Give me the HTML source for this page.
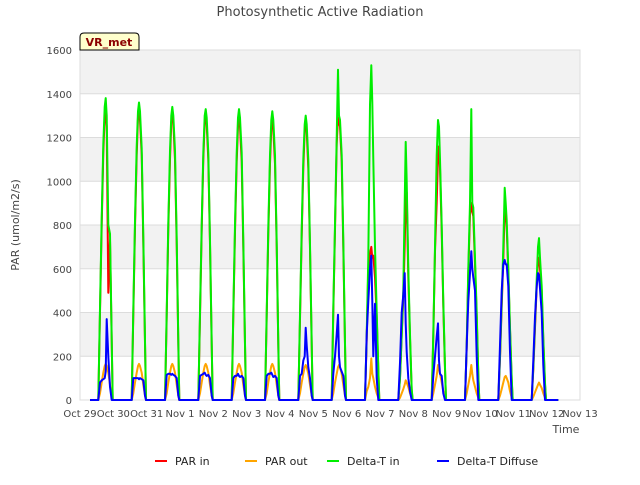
<!DOCTYPE html>
<html><head><meta charset="utf-8"><style>
body{margin:0;background:#fff;font-family:"Liberation Sans","DejaVu Sans",sans-serif;}
svg text{font-family:"DejaVu Sans","Liberation Sans",sans-serif;}
</style></head><body>
<svg id="chart" width="640" height="480">
<rect width="640" height="480" fill="#fff"/>
<text x="320" y="16" text-anchor="middle" font-size="13" fill="#444">Photosynthetic Active Radiation</text>
<g id="grid"></g>
<g id="series"></g>
<g id="axes"></g>
<text x="19" y="225" transform="rotate(-90 19 225)" text-anchor="middle" font-size="11" fill="#444">PAR (umol/m2/s)</text>
<text x="566" y="433" text-anchor="middle" font-size="11" fill="#444">Time</text>
<g>
<path d="M80,50 L80,37 Q80,33 84,33 L135,33 Q139,33 139,37 L139,50 Z" fill="#ffffcc" stroke="#000"/>
<text x="109" y="46" text-anchor="middle" font-size="11" font-weight="bold" fill="#8b0000">VR_met</text>
</g>
<g id="legend"></g>
</svg>
<script>
const xTickLabels=["Oct 29","Oct 30","Oct 31","Nov 1","Nov 2","Nov 3","Nov 4","Nov 5","Nov 6","Nov 7","Nov 8","Nov 9","Nov 10","Nov 11","Nov 12","Nov 13"];
const yTicks=[0,200,400,600,800,1000,1200,1400,1600];
const offsets=[0.55,0.6,0.65,0.7,0.74,0.77,0.8,0.85,0.9,0.95,0.98];
const deltaTIn=[
[0,420,830,1170,1340,1380,1300,800,760,280,0],
[0,410,820,1160,1320,1360,1320,1150,750,270,0],
[0,400,810,1140,1300,1340,1300,1140,740,270,0],
[0,400,800,1130,1300,1330,1290,1130,730,260,0],
[0,400,800,1130,1290,1330,1290,1130,730,260,0],
[0,400,790,1120,1280,1320,1280,1120,720,260,0],
[0,390,780,1100,1260,1300,1260,1100,710,260,0],
[0,420,800,1200,1510,1300,1280,1120,730,260,0],
[0,300,650,1350,1530,1360,1100,700,400,150,0],
[0,100,300,500,900,1180,1000,600,300,50,0],
[0,300,700,1120,1280,1250,1100,800,450,150,0],
[0,250,600,900,1330,900,880,650,400,120,0],
[0,200,450,700,970,900,820,600,330,100,0],
[0,150,350,550,700,740,650,520,280,80,0]];
const parIn=[
[0,400,800,1130,1300,1320,1250,490,730,270,0],
[0,390,790,1120,1290,1320,1280,1120,720,260,0],
[0,380,780,1100,1270,1310,1270,1100,710,260,0],
[0,380,780,1100,1270,1300,1260,1100,710,250,0],
[0,380,770,1090,1250,1290,1250,1090,700,250,0],
[0,380,760,1080,1240,1280,1240,1080,700,250,0],
[0,370,750,1060,1230,1270,1230,1060,690,250,0],
[0,400,780,1170,1290,1270,1250,1090,700,250,0],
[0,280,600,670,700,650,660,560,380,140,0],
[0,100,300,470,710,900,950,560,280,40,0],
[0,290,680,900,1120,1160,1060,770,430,140,0],
[0,240,580,850,900,860,840,620,380,110,0],
[0,190,430,640,880,860,790,580,320,90,0],
[0,140,330,520,640,650,600,500,270,70,0]];
const parOut=[
[0,30,80,125,155,165,155,125,70,20,0],
[0,30,80,125,155,165,155,125,70,20,0],
[0,30,80,125,155,165,155,125,70,20,0],
[0,30,80,125,155,165,155,125,70,20,0],
[0,30,80,125,155,165,155,125,70,20,0],
[0,30,80,125,155,165,155,125,70,20,0],
[0,30,80,120,150,160,150,120,70,20,0],
[0,30,80,120,150,160,150,120,70,20,0],
[0,40,60,100,190,120,100,60,30,10,0],
[0,10,30,50,70,90,80,60,30,10,0],
[0,30,70,110,160,140,120,80,40,10,0],
[0,30,70,110,160,120,90,60,30,10,0],
[0,20,50,80,105,110,100,80,40,10,0],
[0,15,35,55,70,80,70,55,30,10,0]];
const deltaTDiffuse=[
[0,80,90,95,100,130,370,200,60,0,0],
[0,100,100,100,100,95,100,95,90,20,0],
[0,115,120,120,115,120,115,110,100,20,0],
[0,110,115,120,125,115,110,115,100,20,0],
[0,100,110,110,120,110,105,110,100,20,0],
[0,110,120,120,125,115,105,110,100,20,0],
[0,110,120,180,200,330,250,150,100,20,0],
[0,120,200,300,390,200,150,130,110,20,0],
[0,300,450,600,660,450,200,440,100,0,0],
[0,170,400,480,580,350,220,100,40,0,0],
[0,110,200,290,350,180,120,110,30,0,0],
[0,250,450,580,680,600,560,500,200,0,0],
[0,250,500,620,640,620,620,520,220,0,0],
[0,180,380,520,580,570,510,400,160,0,0]];
const seriesNames=["PAR in","PAR out","Delta-T in","Delta-T Diffuse"];
const seriesColors=["#ff0000","#ffa500","#00ee00","#0000ff"];

const X0=80,X1=580,Y0=400,Y1=50;
const xScale=d=>X0+(X1-X0)*d/15;
const yScale=v=>Y0-(Y0-Y1)*v/1600;
const NS="http://www.w3.org/2000/svg";
function mk(tag,attrs,parent){const e=document.createElementNS(NS,tag);for(const k in attrs)e.setAttribute(k,attrs[k]);parent.appendChild(e);return e;}
const grid=document.getElementById('grid'),axes=document.getElementById('axes'),ser=document.getElementById('series'),leg=document.getElementById('legend');
mk('rect',{x:X0,y:Y1,width:X1-X0,height:Y0-Y1,fill:'#fff'},grid);
for(let i=0;i<yTicks.length-1;i++){
  if(i%2===1){const r=mk('rect',{x:X0,y:yScale(yTicks[i+1]),width:X1-X0,height:yScale(yTicks[i])-yScale(yTicks[i+1]),fill:'#f2f2f2'},grid);
  
  }
}
yTicks.forEach(v=>{
  const l=mk('line',{x1:X0,x2:X1,y1:yScale(v),y2:yScale(v),stroke:'#dcdcdc','stroke-width':1},grid);
  
  
  const t=mk('text',{x:X0-8,y:yScale(v)+4,'text-anchor':'end','font-size':10,fill:'#444'},axes);
  t.textContent=v;
  
  
});
mk('rect',{x:X0,y:Y1,width:X1-X0,height:Y0-Y1,fill:'none',stroke:'#ddd'},grid);
xTickLabels.forEach((s,i)=>{
  const t=mk('text',{x:xScale(i),y:Y0+17,'text-anchor':'middle','font-size':10,fill:'#444'},axes);
  t.textContent=s;
  
  
});
function buildPath(data){
  let pts=[[0.3,0]];
  data.forEach((day,d)=>{day.forEach((v,j)=>pts.push([d+offsets[j],v]));});
  pts.push([14.35,0]);
  return pts.map((p,i)=>(i?'L':'M')+xScale(p[0]).toFixed(1)+','+yScale(p[1]).toFixed(1)).join(' ');
}
const allData=[parIn,parOut,deltaTIn,deltaTDiffuse];
[0,1,2,3].forEach(i=>{
  const p=mk('path',{d:buildPath(allData[i]),fill:'none',stroke:seriesColors[i],'stroke-width':2,'stroke-linejoin':'round'},ser);
  
  
});
const legX=[155,245,327,437];
seriesNames.forEach((n,i)=>{
  const g=mk('g',{},leg);
  
  
  mk('line',{x1:legX[i],x2:legX[i]+12,y1:461,y2:461,stroke:seriesColors[i],'stroke-width':2},g);
  const t=mk('text',{x:legX[i]+20,y:465,'font-size':11,fill:'#222'},g);
  t.textContent=n;
});
</script>
</body></html>
